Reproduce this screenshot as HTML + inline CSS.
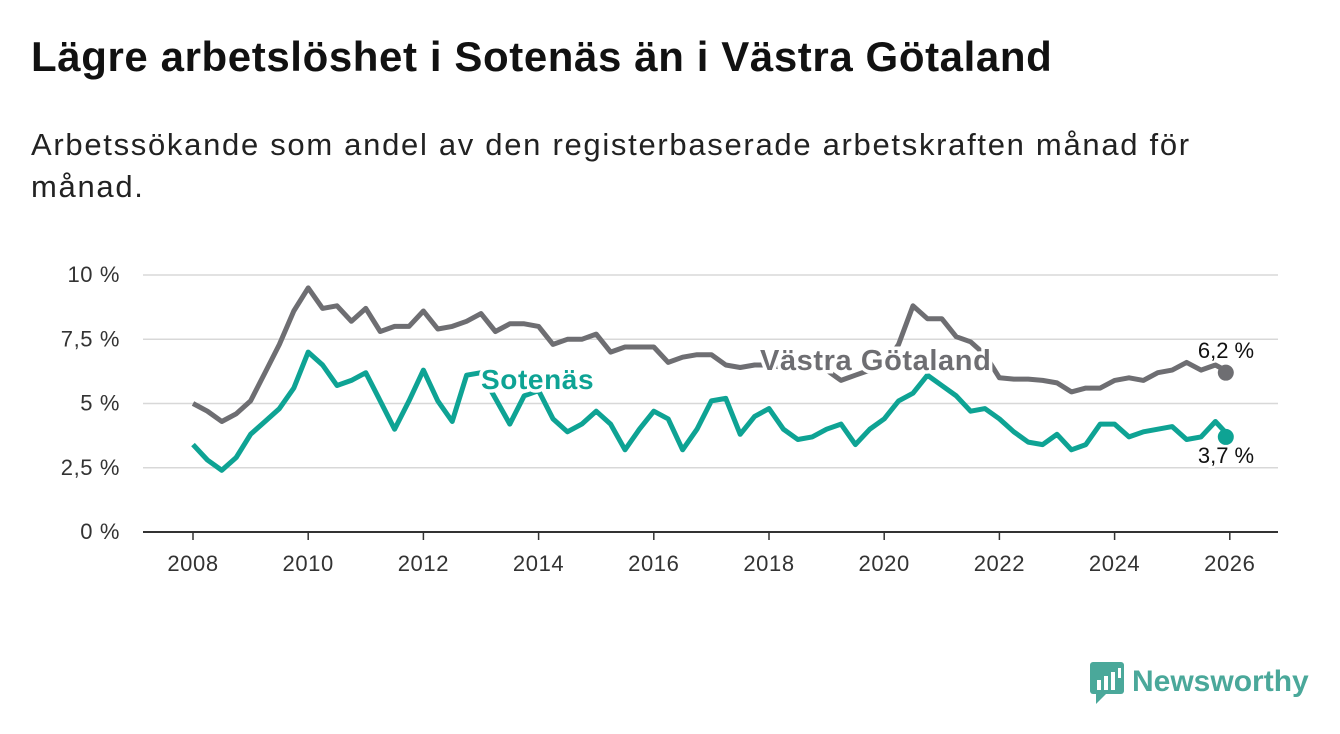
<!DOCTYPE html>
<html><head><meta charset="utf-8"><style>
body{margin:0;width:1340px;height:734px;background:#fff;font-family:"Liberation Sans",sans-serif;overflow:hidden;position:relative}
h1{position:absolute;left:31px;top:33px;margin:0;font-size:42px;letter-spacing:0.6px;font-weight:bold;color:#111;white-space:nowrap}
.sub{position:absolute;left:31px;top:124px;margin:0;font-size:31px;letter-spacing:1.7px;line-height:42px;color:#222;width:1230px}
svg{position:absolute;left:0;top:0}
</style></head><body>
<h1>Lägre arbetslöshet i Sotenäs än i Västra Götaland</h1>
<p class="sub">Arbetssökande som andel av den registerbaserade arbetskraften månad för månad.</p>
<svg id="chart" width="1340" height="734"></svg>
<div style="position:absolute;left:1090px;top:660px;display:flex;align-items:center">
<svg width="34" height="44" style="position:static"><rect x="0" y="2" width="34" height="32" rx="3" fill="#4aa89a"/><polygon points="6,34 16,34 6,44" fill="#4aa89a"/><rect x="7" y="20" width="4" height="10" fill="#fff"/><rect x="14" y="16" width="4" height="14" fill="#fff"/><rect x="21" y="12" width="4" height="18" fill="#fff"/><rect x="28" y="8" width="3" height="10" fill="#fff"/></svg>
<span style="font-size:30px;font-weight:bold;color:#4aa89a;margin-left:8px">Newsworthy</span></div>
<script>
const years=[2008,2010,2012,2014,2016,2018,2020,2022,2024,2026];
const yTicks=[0,2.5,5,7.5,10];
const yTickLabels=["0 %","2,5 %","5 %","7,5 %","10 %"];
const startYear=2008, step=0.25;
const vgValues=[5.0,4.7,4.3,4.6,5.1,6.2,7.3,8.6,9.5,8.7,8.8,8.2,8.7,7.8,8.0,8.0,8.6,7.9,8.0,8.2,8.5,7.8,8.1,8.1,8.0,7.3,7.5,7.5,7.7,7.0,7.2,7.2,7.2,6.6,6.8,6.9,6.9,6.5,6.4,6.5,6.5,6.4,6.3,6.4,6.3,5.9,6.1,6.3,6.5,7.3,8.8,8.3,8.3,7.6,7.4,6.9,6.0,5.95,5.95,5.9,5.8,5.45,5.6,5.6,5.9,6.0,5.9,6.2,6.3,6.6,6.3,6.5,6.2];
const soValues=[3.4,2.8,2.4,2.9,3.8,4.3,4.8,5.6,7.0,6.5,5.7,5.9,6.2,5.1,4.0,5.1,6.3,5.1,4.3,6.1,6.2,5.2,4.2,5.3,5.5,4.4,3.9,4.2,4.7,4.2,3.2,4.0,4.7,4.4,3.2,4.0,5.1,5.2,3.8,4.5,4.8,4.0,3.6,3.7,4.0,4.2,3.4,4.0,4.4,5.1,5.4,6.1,5.7,5.3,4.7,4.8,4.4,3.9,3.5,3.4,3.8,3.2,3.4,4.2,4.2,3.7,3.9,4.0,4.1,3.6,3.7,4.3,3.7];
const X=y=>193+(y-2008)*57.6, Y=v=>532-v*25.7;
const s=document.getElementById('chart'),NS='http://www.w3.org/2000/svg';
function mk(t,a,txt){const e=document.createElementNS(NS,t);for(const k in a)e.setAttribute(k,a[k]);if(txt!=null)e.textContent=txt;s.appendChild(e);return e;}
yTicks.forEach((v,i)=>{
 const g=mk('line',{x1:143,x2:1278,y1:Y(v),y2:Y(v),stroke:v===0?'#333':'#d8d8d8','stroke-width':v===0?2:1.5});
 
 
 const t=mk('text',{x:120,y:Y(v)+7,'text-anchor':'end','font-size':22,'letter-spacing':0.6,fill:'#333'},yTickLabels[i]);
 
 
});
years.forEach(y=>{
 const l=mk('line',{x1:X(y),x2:X(y),y1:532,y2:540,stroke:'#333','stroke-width':1.5});
 
 
 const t=mk('text',{x:X(y),y:571,'text-anchor':'middle','font-size':22,'letter-spacing':0.6,fill:'#333'},y);
 
 
});
function line(vals,col,name){
 const d=vals.map((v,i)=>(i?'L':'M')+X(startYear+i*step).toFixed(1)+','+Y(v).toFixed(1)).join('');
 const p=mk('path',{d:d,fill:'none',stroke:col,'stroke-width':5,'stroke-linejoin':'round'});
 
 
 const n=vals.length-1;
 const c=mk('circle',{cx:X(startYear+n*step)-4,cy:Y(vals[n]),r:8,fill:col});
 
 
}
line(vgValues,'#6e6e72','vastra-gotaland-line');
line(soValues,'#0ea394','sotenas-line');
function lab(x,y,txt,col,name,fs){
 const t=mk('text',{x:x,y:y,'font-size':fs,'letter-spacing':0.6,'font-weight':'bold',fill:col,stroke:'#fff','stroke-width':7,'paint-order':'stroke'},txt);
 
 
}
lab(760,370,'Västra Götaland','#6e6e72','vastra-gotaland-label',29);
lab(481,389,'Sotenäs','#0ea394','sotenas-label',28);
const nl=(x,y,txt,name)=>{const t=mk('text',{x:x,y:y,'font-size':22,fill:'#111','text-anchor':'middle',stroke:'#fff','stroke-width':4,'paint-order':'stroke'},txt);
 
 };
nl(1226,358,'6,2 %','vastra-gotaland-end-value');
nl(1226,463,'3,7 %','sotenas-end-value');
</script>
</body></html>
